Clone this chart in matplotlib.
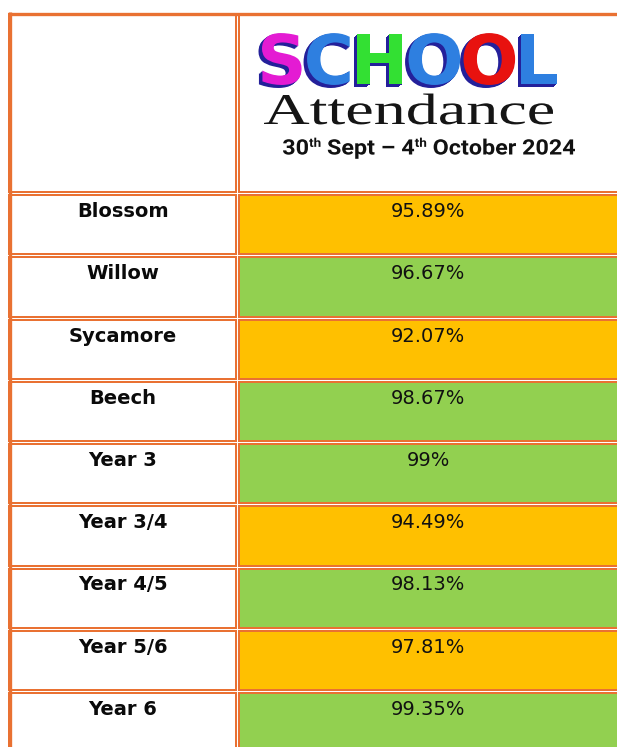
"""School attendance table, 30th Sept - 4th October 2024."""

import matplotlib

matplotlib.use("Agg")
import matplotlib.pyplot as plt
from matplotlib.font_manager import FontProperties
from matplotlib.patches import PathPatch, Rectangle
from matplotlib.path import Path
from matplotlib.textpath import TextPath, TextToPath
from matplotlib.transforms import Affine2D

# --- data -------------------------------------------------------------
groups = ["Blossom", "Willow", "Sycamore", "Beech", "Year 3",
          "Year 3/4", "Year 4/5", "Year 5/6", "Year 6"]
attendance = [95.89, 96.67, 92.07, 98.67, 99, 94.49, 98.13, 97.81, 99.35]
rag = ["amber", "green", "amber", "green", "green",
       "amber", "green", "amber", "green"]

logo_word = "SCHOOL"
logo_colours = ["#E41BD3", "#2E7FE0", "#33E033", "#2E7FE0", "#E8120F", "#2E7FE0"]
subtitle = "Attendance"
week = [("30", False), ("th", True), (" Sept \u2013 4", False),
        ("th", True), (" October 2024", False)]

RAG_COLOURS = {"amber": "#FFC000", "green": "#92D050"}
BORDER = "#E97132"
W, H = 617, 747


def stretch(paths, x0, x1, base, sy):
    """Transform mapping path units to pixels: width fits x0..x1, baseline at base."""
    bb = Path.make_compound_path(*paths).get_extents()
    sx = (x1 - x0) / bb.width
    return Affine2D().translate(-bb.x0, 0).scale(sx, -sy).translate(x0, base)


def draw_table(ax):
    left, mid, right = 9, 237, 640
    top, head_bot, row_h = 12, 193.5, 62.25
    lw = 1.44

    # header cells
    ax.add_patch(Rectangle((left, top + 1.5), mid - 1.5 - left, head_bot - top - 3,
                           fc="white", ec=BORDER, lw=lw))
    ax.add_patch(Rectangle((mid + 1.5, top + 1.5), right - mid, head_bot - top - 3,
                           fc="white", ec=BORDER, lw=lw))

    for i, (name, val, status) in enumerate(zip(groups, attendance, rag)):
        y = head_bot + i * row_h
        ax.add_patch(Rectangle((left, y + 1.5), mid - 1.5 - left, row_h - 3,
                               fc="white", ec=BORDER, lw=lw))
        ax.add_patch(Rectangle((mid + 1.5, y + 1.5), right - mid, row_h - 3,
                               fc=RAG_COLOURS[status], ec=BORDER, lw=lw))
        ax.text((left + mid) / 2, y + 18, name, ha="center", va="center",
                fontsize=14, fontweight="bold", color="#0A0A0A")
        ax.text((mid + W) / 2 + 1, y + 18, f"{val:g}%", ha="center", va="center",
                fontsize=14, color="#111111")

    # thicker outer frame
    ax.plot([left + 0.5, left + 0.5], [top, H + 5], color=BORDER, lw=2.4,
            solid_capstyle="butt")
    ax.plot([left - 1, W + 5], [top + 1.5, top + 1.5], color=BORDER, lw=2.4,
            solid_capstyle="butt")


def draw_header(ax):
    # SCHOOL logo, letter by letter with a dark extruded shadow
    prop = FontProperties(family="DejaVu Sans", weight="bold")
    ttp = TextToPath()
    letters = []
    for i, ch in enumerate(logo_word):
        offset = ttp.get_text_width_height_descent(logo_word[:i], prop, ismath=False)[0] if i else 0
        offset *= 100 / prop.get_size_in_points()
        letters.append(TextPath((offset * 0.94, 0), ch, size=100, prop=prop))
    cap = TextPath((0, 0), "H", size=100, prop=prop).get_extents().height
    tr = stretch(letters, 262, 557, 84, 50 / cap)
    for d in range(1, 6):
        for p in letters:
            sp = Affine2D().translate(-0.7 * d, 0.6 * d).transform_path(tr.transform_path(p))
            ax.add_patch(PathPatch(sp, fc="#24209A", ec="none"))
    for p, c in zip(letters, logo_colours):
        ax.add_patch(PathPatch(tr.transform_path(p), fc=c, ec="none"))

    # "Attendance" in a stretched serif
    sprop = FontProperties(family="Liberation Serif")
    tp = TextPath((0, 0), subtitle, size=100, prop=sprop)
    cap = TextPath((0, 0), "A", size=100, prop=sprop).get_extents().height
    tr = stretch([tp], 264, 553, 124, 29 / cap)
    ax.add_patch(PathPatch(tr.transform_path(tp), fc="#151515", ec="none"))

    # date range with superscript "th"
    dprop = FontProperties(family="Roboto", weight="bold")
    parts, x = [], 0.0
    for s, sup in week:
        size, rise = (58, 36) if sup else (100, 0)
        parts.append(TextPath((x, rise), s, size=size, prop=dprop))
        w = ttp.get_text_width_height_descent(s, dprop, ismath=False)[0]
        x += w * size / dprop.get_size_in_points()
    cap = TextPath((0, 0), "0", size=100, prop=dprop).get_extents().height
    tr = stretch(parts, 283, 575, 154.5, 15.5 / cap)
    for p in parts:
        ax.add_patch(PathPatch(tr.transform_path(p), fc="#111111", ec="none"))


def main():
    fig = plt.figure(figsize=(W / 100, H / 100), dpi=100)
    ax = fig.add_axes([0, 0, 1, 1])
    ax.set_xlim(0, W)
    ax.set_ylim(H, 0)
    ax.axis("off")
    draw_table(ax)
    draw_header(ax)
    fig.savefig("out.png", dpi=100, facecolor="white")


if __name__ == "__main__":
    main()
